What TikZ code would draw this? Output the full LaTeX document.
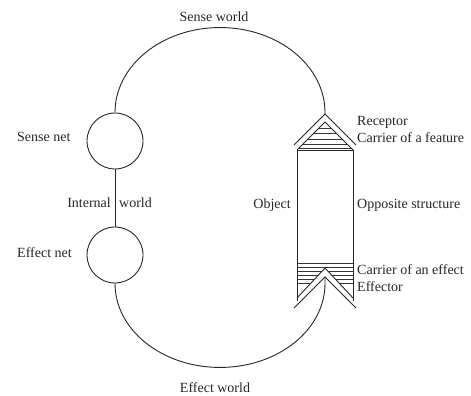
\documentclass[tikz,border=0pt]{standalone}
\usepackage{fontspec}
\setmainfont{Liberation Serif}
\begin{document}
\begin{tikzpicture}[x=1pt,y=1pt,
  ln/.style={line width=0.9pt, draw=black!85},
  hatch/.style={line width=0.8pt, draw=black!80},
  lbl/.style={inner sep=0pt, font=\fontsize{14}{16}\selectfont, text=black!85},
  netc/.style={circle, ln, minimum size=56pt, inner sep=0pt}]
\useasboundingbox (0,0) rectangle (471,396);
% nets
\node[netc] (sensenet) at (115,255) {};
\node[netc] (effectnet) at (115,141) {};
\draw[ln] (sensenet.south) -- (effectnet.north);
% apexes of object
\coordinate (recapex) at (325,282);
\coordinate (effapex) at (325,119);
% worlds
\draw[ln] (sensenet.north) arc[start angle=180, end angle=0, x radius=105, y radius=85] -- (recapex);
\draw[ln] (effectnet.south) arc[start angle=180, end angle=360, x radius=105, y radius=84] -- (effapex);
% object body
\draw[ln] (297,246) -- (297,95);
\draw[ln] (353,246) -- (353,95);
\draw[ln] (297,246) -- (353,246);
% receptor: triangle with hatch
\draw[ln] (297,246) -- (325,274) -- (353,246);
\begin{scope}
  \clip (297,246) -- (325,274) -- (353,246) -- cycle;
  \foreach \yy in {268,263,257,252,248} \draw[hatch] (290,\yy) -- (360,\yy);
\end{scope}
% receptor outer chevron
\draw[ln] (294,251) -- (recapex) -- (356,251);
% carrier of an effect hatch
\foreach \yy in {133,129} \draw[hatch] (297,\yy) -- (353,\yy);
\begin{scope}
  \clip (297,130) -- (297,98) -- (325,128) -- (353,98) -- (353,130) -- cycle;
  \foreach \yy in {125,121,117,113} \draw[hatch] (297,\yy) -- (353,\yy);
\end{scope}
% effector chevron (double)
\draw[ln] (297,98) -- (325,128) -- (353,98);
\draw[ln] (294,88) -- (effapex) -- (356,88);
% labels
\node[lbl] (sw) at (214,379) {Sense world};
\node[lbl] (ew) at (215,8) {Effect world};
\node[lbl, anchor=west] (snl) at (17,259) {Sense net};
\node[lbl, anchor=west] (enl) at (17,143) {Effect net};
\node[lbl, anchor=east] (iw1) at (111,193) {Internal};
\node[lbl, anchor=west] (iw2) at (119,193) {world};
\node[lbl, anchor=east] (obj) at (291,191) {Object};
\node[lbl, anchor=west] (rec) at (357,274) {Receptor};
\node[lbl, anchor=west] (cf) at (357,258) {Carrier of a feature};
\node[lbl, anchor=west] (os) at (357,191) {Opposite structure};
\node[lbl, anchor=west] (ce) at (357,126) {Carrier of an effect};
\node[lbl, anchor=west] (eff) at (357,109) {Effector};
\end{tikzpicture}
\end{document}
